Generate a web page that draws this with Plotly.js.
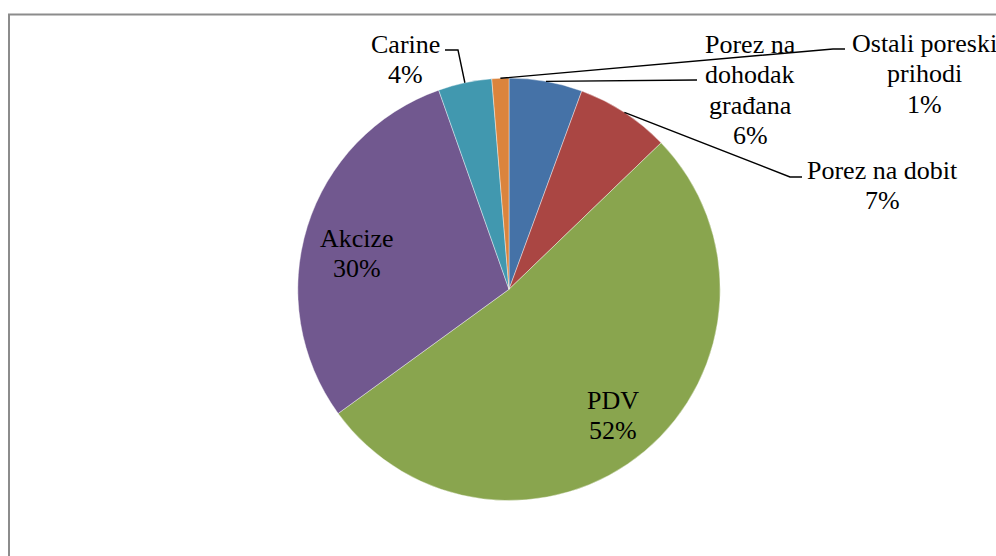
<!DOCTYPE html>
<html>
<head>
<meta charset="utf-8">
<script src="https://cdn.plot.ly/plotly-3.0.1.min.js"></script>
<style>html,body{margin:0;padding:0;background:#fff;}#chart{width:996px;height:556px;}</style>
</head>
<body>
<div id="chart"></div>
<script>
var categories = ["Porez na dohodak građana", "Porez na dobit", "PDV", "Akcize", "Carine", "Ostali poreski prihodi"];
var labelLines = [["Porez na", "dohodak", "građana"], ["Porez na dobit"], ["PDV"], ["Akcize"], ["Carine"], ["Ostali poreski", "prihodi"]];
var shares = [5.6, 7.2, 52.2, 29.6, 4.1, 1.3];
var percentLabels = ["6%", "7%", "52%", "30%", "4%", "1%"];
var colors = ["#4572A7", "#AA4643", "#89A54E", "#71588F", "#4198AF", "#DB843D"];

var W = 996, H = 556;
var cx = 509, cy = 289.3, R = 211.2;
var FONT = 26, LINE = 30.3;
function px(x) { return x / W; }
function py(y) { return 1 - y / H; }

// label placement (layout only): centre x and first-line baseline in pixels
var labelPos = [
  {x: 750, y: 51},
  {x: 882.5, y: 177},
  {x: 613, y: 407},
  {x: 357, y: 245},
  {x: 405, y: 51},
  {x: 924, y: 50}
];
// elbow points for outside leader lines (null = inside label)
var elbows = [
  [[697, 80]],
  [[790, 177], [802, 177]],
  null,
  null,
  [[458, 50], [445, 50]],
  [[833, 49], [845, 49]]
];

var total = shares.reduce(function(a, b) { return a + b; }, 0);
var cum = 0;
var shapes = [{
  type: "rect", xref: "paper", yref: "paper",
  x0: px(9), x1: 1.05, y0: -0.05, y1: py(14.5),
  line: {color: "#8c8c8c", width: 2}, fillcolor: "rgba(0,0,0,0)", layer: "below"
}];
var annotations = [];
for (var i = 0; i < shares.length; i++) {
  var mid = (cum + shares[i] / 2) / total * 2 * Math.PI;
  cum += shares[i];
  var sx = cx + R * Math.sin(mid), sy = cy - R * Math.cos(mid);
  if (elbows[i]) {
    var p = "M" + px(sx) + "," + py(sy);
    elbows[i].forEach(function(pt) { p += " L" + px(pt[0]) + "," + py(pt[1]); });
    shapes.push({type: "path", xref: "paper", yref: "paper", path: p, line: {color: "#000", width: 1.4}});
  }
  var lines = labelLines[i].concat([percentLabels[i]]);
  for (var k = 0; k < lines.length; k++) {
    annotations.push({
      xref: "paper", yref: "paper",
      x: px(labelPos[i].x), y: py(labelPos[i].y + k * LINE - 0.25 * FONT),
      xanchor: "center", yanchor: "middle", showarrow: false,
      text: lines[k],
      font: {family: "Liberation Serif", size: FONT, color: "#000"}
    });
  }
}

var data = [{
  type: "pie",
  labels: categories,
  values: shares,
  sort: false,
  direction: "clockwise",
  rotation: 0,
  textinfo: "none",
  hoverinfo: "label+percent",
  marker: {colors: colors, line: {color: "rgba(255,255,255,0.5)", width: 0.8}},
  domain: {x: [px(cx - R), px(cx + R)], y: [py(cy + R), py(cy - R)]}
}];

var layout = {
  width: W, height: H,
  margin: {l: 0, r: 0, t: 0, b: 0},
  showlegend: false,
  paper_bgcolor: "#fff",
  font: {family: "Liberation Serif"},
  shapes: shapes,
  annotations: annotations
};
Plotly.newPlot("chart", data, layout, {displayModeBar: false, staticPlot: true});
</script>
</body>
</html>
